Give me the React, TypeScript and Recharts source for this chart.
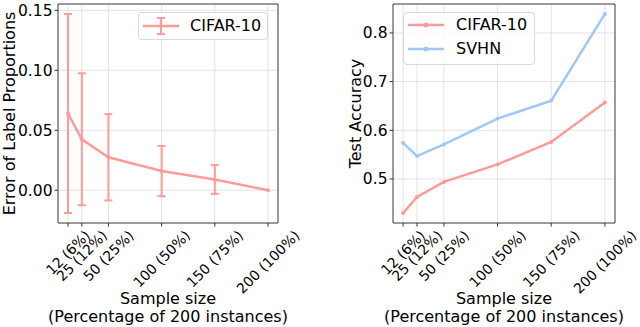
import {
  LineChart, Line, XAxis, YAxis, CartesianGrid, ErrorBar, ReferenceArea, Legend
} from 'recharts';

const sizes = [12, 25, 50, 100, 150, 200];
const sizeLabels = ['12 (6%)', '25 (12%)', '50 (25%)', '100 (50%)', '150 (75%)', '200 (100%)'];
const labelErr = [0.064, 0.0425, 0.0275, 0.016, 0.009, 0.0];
const labelErrStd = [0.083, 0.055, 0.036, 0.021, 0.012, 0.0];
const cifarAcc = [0.43, 0.463, 0.494, 0.53, 0.576, 0.657];
const svhnAcc = [0.574, 0.547, 0.571, 0.624, 0.661, 0.839];
const errTicks = [0, 0.05, 0.1, 0.15];
const accTicks = [0.5, 0.6, 0.7, 0.8];

const RED = '#ff9b98';
const BLUE = '#a0c8f4';
const FONT = '"DejaVu Sans", sans-serif';
const X_DOMAIN: [number, number] = [2.6, 209.4];
const ERR_DOMAIN: [number, number] = [-0.0273, 0.1553];
const ACC_DOMAIN: [number, number] = [0.4096, 0.8594];

const errData = sizes.map((s, i) => ({ size: s, err: labelErr[i], std: labelErrStd[i] }));
const accData = sizes.map((s, i) => ({ size: s, cifar: cifarAcc[i], svhn: svhnAcc[i] }));

let ctx: CanvasRenderingContext2D | null = null;
const textWidth = (s: string, fs: number) => {
  if (!ctx) ctx = document.createElement('canvas').getContext('2d');
  if (!ctx) return s.length * fs * 0.6;
  ctx.font = `${fs}px "DejaVu Sans"`;
  return ctx.measureText(s).width;
};

// matplotlib-style rotation=45, ha=center
function RotTick(props: any) {
  const { x, y, payload } = props;
  const text = sizeLabels[sizes.indexOf(payload.value)] ?? '';
  const fs = 14;
  const w = textWidth(text, fs);
  const cy = y + (w + fs) * Math.SQRT1_2 / 2;
  return (
    <text x={x} y={cy} textAnchor="middle" dominantBaseline="central" fontSize={fs}
      fontFamily={FONT} fill="#000" transform={`rotate(-45 ${x} ${cy})`}>
      {text}
    </text>
  );
}

const xLabel = (props: any) => {
  const vb = props.viewBox || { x: 0, y: 0, width: 0 };
  const cx = vb.x + vb.width / 2;
  return (
    <g fontFamily={FONT} fontSize={16} fill="#000">
      <text x={cx} y={vb.y + 75} textAnchor="middle" dominantBaseline="central">Sample size</text>
      <text x={cx} y={vb.y + 93} textAnchor="middle" dominantBaseline="central">(Percentage of 200 instances)</text>
    </g>
  );
};

const yLabel = (text: string, lx: number) => (props: any) => {
  const vb = props.viewBox || { y: 0, height: 0 };
  const cy = vb.y + vb.height / 2;
  return (
    <text x={lx} y={cy} textAnchor="middle" dominantBaseline="central" fontFamily={FONT}
      fontSize={16} fill="#000" transform={`rotate(-90 ${lx} ${cy})`}>
      {text}
    </text>
  );
};

const boxStyle = {
  background: 'rgba(255,255,255,0.8)', border: '1px solid #d9d9d9', borderRadius: 4,
  boxSizing: 'border-box' as const, fontFamily: FONT, fontSize: 16, color: '#000',
};

const ErrLegend = () => (
  <div style={{ ...boxStyle, width: 130, height: 28, position: 'relative' }}>
    <svg width={44} height={28} style={{ position: 'absolute', left: 0, top: 0 }}>
      <line x1={4} x2={40} y1={13} y2={13} stroke={RED} strokeWidth={2.5} />
      <line x1={22} x2={22} y1={5} y2={21} stroke={RED} strokeWidth={2} />
      <line x1={18} x2={26} y1={5} y2={5} stroke={RED} strokeWidth={2} />
      <line x1={18} x2={26} y1={21} y2={21} stroke={RED} strokeWidth={2} />
    </svg>
    <span style={{ position: 'absolute', left: 51, top: 3, lineHeight: '20px' }}>CIFAR-10</span>
  </div>
);

const AccLegend = () => (
  <div style={{ ...boxStyle, width: 132, height: 53, position: 'relative' }}>
    {[['CIFAR-10', RED, 12], ['SVHN', BLUE, 36]].map(([name, c, ly]) => (
      <div key={name as string}>
        <svg width={44} height={53} style={{ position: 'absolute', left: 0, top: 0 }}>
          <line x1={4} x2={40} y1={ly as number} y2={ly as number} stroke={c as string} strokeWidth={2.5} />
          <circle cx={22} cy={ly as number} r={2.5} fill={c as string} />
        </svg>
        <span style={{ position: 'absolute', left: 52, top: (ly as number) - 10, lineHeight: '20px' }}>{name}</span>
      </div>
    ))}
  </div>
);

const axisTick = { fill: '#000', fontSize: 15.5, fontFamily: FONT };

export default function App() {
  return (
    <div style={{ position: 'absolute', left: 0, top: 0, width: 640, height: 327, background: '#fff' }}>
      <div style={{ position: 'absolute', left: 0, top: 0 }}>
        <LineChart width={320} height={327} data={errData} margin={{ top: 4, right: 42, left: 0, bottom: 0 }}>
          <CartesianGrid stroke="#e3e3e3" strokeWidth={1} />
          <XAxis dataKey="size" type="number" domain={X_DOMAIN} ticks={sizes} allowDataOverflow
            height={104} axisLine={false} tickSize={3.5} tickMargin={1.5}
            tickLine={{ stroke: '#333' }} tick={<RotTick />} interval={0} label={{ content: xLabel }} />
          <YAxis type="number" domain={ERR_DOMAIN} ticks={errTicks} allowDataOverflow width={58}
            axisLine={false} tickSize={3.5} tickMargin={2} tickLine={{ stroke: '#333' }}
            tick={axisTick} tickFormatter={(v: number) => v.toFixed(2)}
            label={{ content: yLabel('Error of Label Proportions', 9) }} />
          <ReferenceArea x1={X_DOMAIN[0]} x2={X_DOMAIN[1]} y1={ERR_DOMAIN[0]} y2={ERR_DOMAIN[1]}
            fill="none" stroke="#444" strokeWidth={1} ifOverflow="visible" />
          <Line type="linear" dataKey="err" stroke={RED} strokeWidth={2.5}
            dot={{ r: 2, fill: RED, stroke: RED, strokeWidth: 0 }} activeDot={false} isAnimationActive={false}>
            <ErrorBar dataKey="std" direction="y" width={4} stroke={RED} strokeWidth={2} isAnimationActive={false} />
          </Line>
          <Legend layout="horizontal" verticalAlign="middle" align="center" content={ErrLegend}
            wrapperStyle={{ left: 138, top: 12, width: 130, height: 28 }} />
        </LineChart>
      </div>
      <div style={{ position: 'absolute', left: 320, top: 0 }}>
        <LineChart width={320} height={327} data={accData} margin={{ top: 4, right: 25, left: 0, bottom: 0 }}>
          <CartesianGrid stroke="#e3e3e3" strokeWidth={1} />
          <XAxis dataKey="size" type="number" domain={X_DOMAIN} ticks={sizes} allowDataOverflow
            height={104} axisLine={false} tickSize={3.5} tickMargin={1.5}
            tickLine={{ stroke: '#333' }} tick={<RotTick />} interval={0} label={{ content: xLabel }} />
          <YAxis type="number" domain={ACC_DOMAIN} ticks={accTicks} allowDataOverflow width={73}
            axisLine={false} tickSize={3.5} tickMargin={2} tickLine={{ stroke: '#333' }}
            tick={axisTick} tickFormatter={(v: number) => v.toFixed(1)}
            label={{ content: yLabel('Test Accuracy', 35) }} />
          <ReferenceArea x1={X_DOMAIN[0]} x2={X_DOMAIN[1]} y1={ACC_DOMAIN[0]} y2={ACC_DOMAIN[1]}
            fill="none" stroke="#444" strokeWidth={1} ifOverflow="visible" />
          <Line type="linear" dataKey="cifar" stroke={RED} strokeWidth={2.5}
            dot={{ r: 2, fill: RED, stroke: RED, strokeWidth: 0 }} activeDot={false} isAnimationActive={false} />
          <Line type="linear" dataKey="svhn" stroke={BLUE} strokeWidth={2.5}
            dot={{ r: 2, fill: BLUE, stroke: BLUE, strokeWidth: 0 }} activeDot={false} isAnimationActive={false} />
          <Legend layout="horizontal" verticalAlign="middle" align="center" content={AccLegend}
            wrapperStyle={{ left: 83, top: 12, width: 132, height: 53 }} />
        </LineChart>
      </div>
    </div>
  );
}
